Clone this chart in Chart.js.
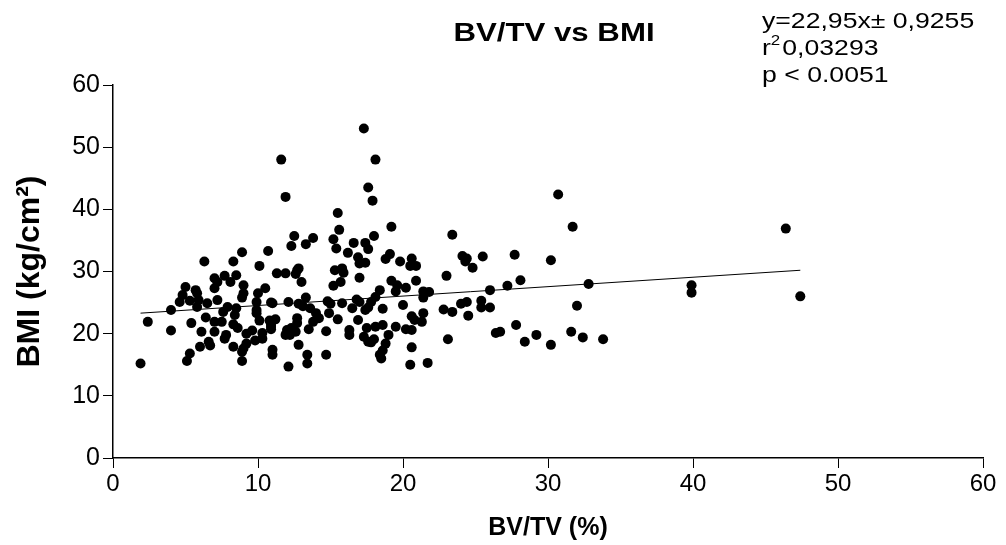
<!DOCTYPE html>
<html>
<head>
<meta charset="utf-8">
<script src="https://cdn.jsdelivr.net/npm/chart.js@4.4.0/dist/chart.umd.min.js"></script>
<style>
html,body{margin:0;padding:0;background:#fff;}
#wrap{width:1006px;height:545px;position:relative;}
</style>
</head>
<body>
<div id="wrap"><canvas id="c" width="1006" height="545"></canvas></div>
<script>
const chartTitle = "BV/TV vs BMI";
const xTitle = "BV/TV (%)";
const yTitle = "BMI (kg/cm²)";
const statLines = ["y=22,95x\u00b1 0,9255", "0,03293", "p < 0.0051"];
const xTicks = [0,10,20,30,40,50,60];
const yTicks = [0,10,20,30,40,50,60];

const bvtv = [1.9,2.4,4.0,4.0,4.6,4.8,5.0,5.1,5.3,5.3,5.4,5.7,5.8,5.8,5.9,6.0,6.1,6.3,6.4,6.5,6.6,6.7,7.0,7.0,7.0,7.0,7.2,7.2,7.5,7.6,7.7,7.7,7.8,7.9,8.1,8.3,8.3,8.3,8.4,8.5,8.5,8.6,8.9,8.9,8.9,8.9,9.0,9.0,9.0,9.2,9.2,9.6,9.8,9.9,9.9,9.9,10.0,10.1,10.1,10.3,10.3,10.5,10.7,10.8,10.9,10.9,10.9,10.9,11.0,11.0,11.0,11.2,11.3,11.6,11.9,11.9,11.9,12.0,12.1,12.1,12.2,12.3,12.3,12.5,12.6,12.6,12.7,12.7,12.7,12.8,12.8,12.8,13.0,13.1,13.3,13.3,13.4,13.4,13.5,13.6,13.8,13.8,14.0,14.2,14.7,14.7,14.8,14.9,15.0,15.2,15.2,15.3,15.4,15.5,15.5,15.6,15.7,15.8,15.8,15.9,16.2,16.3,16.3,16.5,16.6,16.8,16.9,16.9,17.0,17.0,17.0,17.3,17.3,17.4,17.4,17.4,17.5,17.6,17.6,17.6,17.6,17.8,17.8,17.9,18.0,18.0,18.1,18.1,18.1,18.4,18.4,18.5,18.6,18.6,18.6,18.8,18.8,19.0,19.1,19.2,19.2,19.5,19.5,19.6,19.8,20.0,20.2,20.2,20.5,20.5,20.6,20.6,20.6,20.6,20.8,20.9,20.9,21.3,21.4,21.4,21.4,21.7,21.8,22.8,23.0,23.1,23.4,23.4,24.0,24.1,24.3,24.4,24.4,24.5,24.8,25.4,25.4,25.5,26.0,26.0,26.4,26.7,27.2,27.7,27.8,28.1,28.4,29.2,30.2,30.2,30.7,31.6,31.7,32.0,32.4,32.8,33.8,39.9,39.9,46.4,47.4];
const bmi = [15.2,21.9,23.8,20.5,25.1,26.2,27.5,15.6,16.8,25.3,21.7,27.0,26.5,24.3,25.4,17.9,20.3,31.6,22.6,24.9,18.7,18.1,28.9,27.3,21.9,20.3,28.3,25.4,21.9,23.5,29.3,19.2,19.8,24.3,28.3,31.6,21.5,17.9,23.0,29.4,24.1,20.9,33.1,25.8,17.1,15.6,27.8,26.5,17.6,20.0,18.4,20.5,18.9,25.1,23.8,23.3,26.5,30.9,22.1,20.1,19.2,27.3,33.3,22.1,25.0,21.4,20.7,21.1,24.9,17.4,16.6,22.3,29.7,48.0,42.0,29.7,19.8,20.6,25.1,14.7,19.8,34.1,20.9,35.7,20.3,29.6,30.2,22.5,21.7,30.5,24.8,18.2,28.3,24.4,34.4,25.8,16.6,15.2,20.7,24.1,35.4,21.9,23.3,22.5,20.4,16.6,25.2,23.3,24.8,35.2,27.7,30.2,33.7,39.4,22.3,36.7,28.3,30.5,24.9,29.8,33.0,20.6,19.8,24.1,34.6,25.5,32.3,22.2,31.3,29.0,25.1,53.0,19.5,34.6,31.4,23.8,20.9,43.5,33.6,24.2,18.7,25.1,18.6,41.4,35.7,19.1,48.0,25.9,21.1,27.0,16.6,16.0,24.0,21.4,17.3,32.0,18.4,19.8,32.8,37.2,28.5,26.8,21.1,27.8,31.6,24.6,27.4,20.7,30.9,15.0,32.1,22.8,20.6,17.8,22.2,30.9,28.5,21.9,26.8,25.8,23.3,15.3,26.7,23.9,29.3,19.1,35.9,23.5,24.8,32.5,31.6,32.1,25.1,22.9,30.6,25.3,24.2,32.4,27.0,24.2,20.1,20.3,27.7,32.7,21.4,28.6,18.7,19.8,31.8,18.2,42.4,20.3,37.2,24.5,19.4,28.0,19.1,27.8,26.6,36.9,26.0];
const fitX = [1.9, 47.4];
const fitY = [23.3, 30.2];

const FONT = "'Liberation Sans', Arial, sans-serif";

function stretchText(ctx, str, x, y, sx, align) {
  ctx.save();
  ctx.translate(x, y);
  ctx.scale(sx, 1);
  ctx.textAlign = align;
  ctx.fillText(str, 0, 0);
  ctx.restore();
  return ctx.measureText(str).width * sx;
}

const textPlugin = {
  id: 'texts',
  afterDraw(chart) {
    const ctx = chart.ctx;
    const ca = chart.chartArea;
    ctx.save();
    ctx.fillStyle = '#000';
    ctx.textBaseline = 'middle';
    ctx.font = "bold 26px " + FONT;
    stretchText(ctx, chartTitle, (ca.left + ca.right) / 2 + 6, 34, 1.2, 'center');
    const sx = 1.21;
    ctx.font = "22px " + FONT;
    const x0 = 762;
    stretchText(ctx, statLines[0], x0, 22, sx, 'left');
    const rw = stretchText(ctx, "r", x0, 49, sx, 'left');
    ctx.font = "14px " + FONT;
    const sw = stretchText(ctx, "2", x0 + rw, 41, sx, 'left');
    ctx.font = "22px " + FONT;
    stretchText(ctx, statLines[1], x0 + rw + sw + 2, 49, sx, 'left');
    stretchText(ctx, statLines[2], x0, 76, sx, 'left');
    ctx.restore();
  }
};

const axisCommon = {
  type: 'linear',
  min: 0, max: 60,
  grid: { drawOnChartArea: false, drawTicks: true, tickLength: 10, color: '#000', lineWidth: 1 },
  border: { display: true, color: '#000', width: 1.5 },
};

new Chart(document.getElementById('c'), {
  type: 'scatter',
  data: {
    datasets: [
      {
        data: bvtv.map((v, i) => ({ x: v, y: bmi[i] })),
        backgroundColor: '#000', borderColor: '#000',
        pointRadius: 5, pointBorderWidth: 0, pointHoverRadius: 5
      },
      {
        type: 'line',
        data: fitX.map((v, i) => ({ x: v, y: fitY[i] })),
        borderColor: '#000', borderWidth: 1, pointRadius: 0, fill: false
      }
    ]
  },
  options: {
    responsive: false,
    animation: false,
    events: [],
    layout: { padding: { left: 0, right: 23, top: 85, bottom: 0 } },
    plugins: { legend: { display: false }, tooltip: { enabled: false }, title: { display: false } },
    scales: {
      x: Object.assign({}, axisCommon, {
        position: 'bottom',
        afterBuildTicks: s => { s.ticks = xTicks.map(v => ({ value: v })); },
        afterFit: s => { s.height = 87; },
        ticks: { color: '#000', font: { family: FONT, size: 24 }, padding: 2, maxRotation: 0 },
        title: { display: true, text: xTitle, color: '#000', font: { family: FONT, size: 25, weight: 'bold' }, padding: { top: 0, bottom: 2 } }
      }),
      y: Object.assign({}, axisCommon, {
        position: 'left',
        afterBuildTicks: s => { s.ticks = yTicks.map(v => ({ value: v })); },
        afterFit: s => { s.width = 113; },
        ticks: { color: '#000', font: { family: FONT, size: 25 }, padding: 3 },
        title: { display: true, text: yTitle, color: '#000', font: { family: FONT, size: 32, weight: 'bold' }, padding: { top: 11, bottom: 0 } }
      })
    }
  },
  plugins: [textPlugin]
});
</script>
</body>
</html>
